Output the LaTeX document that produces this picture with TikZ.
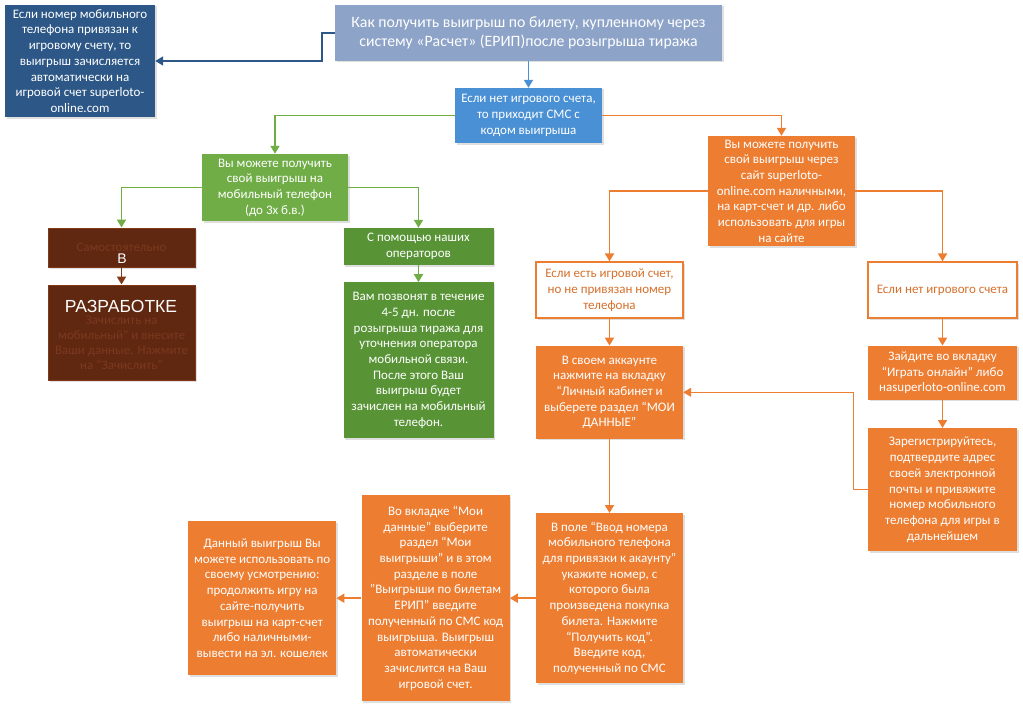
\documentclass[tikz,border=0pt]{standalone}
\usepackage{fontspec}
\setmainfont{Carlito}
\newfontfamily\stampfont{Liberation Sans}
\usetikzlibrary{positioning,arrows.meta,shadows}

\definecolor{navyBlue}{RGB}{44,87,134}
\definecolor{greyBlue}{RGB}{141,163,200}
\definecolor{skyBlue}{RGB}{74,144,212}
\definecolor{leafGreen}{RGB}{112,173,71}
\definecolor{darkGreen}{RGB}{88,148,54}
\definecolor{brandOrange}{RGB}{237,125,49}
\definecolor{darkBrown}{RGB}{96,40,16}
\definecolor{brownEdge}{RGB}{128,56,22}
\definecolor{brownText}{RGB}{124,56,32}

\tikzset{
    box/.style={rectangle, align=center, inner sep=2pt, text=white, minimum width=147pt,
        font=\fontsize{13}{15.7}\selectfont,
        drop shadow={opacity=0.25, shadow xshift=1.5pt, shadow yshift=-1.5pt}},
    navyBox/.style={box, fill=navyBlue, minimum width=150pt},
    titleBox/.style={box, fill=greyBlue, font=\fontsize{15.8}{18.5}\selectfont},
    blueBox/.style={box, fill=skyBlue},
    greenBox/.style={box, fill=leafGreen},
    darkGreenBox/.style={box, fill=darkGreen, minimum width=150pt},
    brownBox/.style={box, fill=darkBrown, draw=brownEdge, line width=1pt, text=brownText},
    orangeBox/.style={box, fill=brandOrange},
    paleBox/.style={box, fill=white, draw=brandOrange, line width=1.2pt, text=brandOrange!90!black},
    stamp/.style={text=white, inner sep=0pt},
    link/.style={line width=1.8pt, -{Triangle[width=9pt,length=8pt]}},
}

\begin{document}
\begin{tikzpicture}[x=1pt, y=-1pt]
    \useasboundingbox (0,0) rectangle (1023,709);
    % top row
    \node[navyBox, minimum height=112pt] (winAuto) at (80,61) {Если номер мобильного\\телефона привязан к\\игровому счету, то\\выигрыш зачисляется\\автоматически на\\игровой счет superloto-\\online.com};
    \node[titleBox, minimum width=387pt, minimum height=56pt] (howTo) at (528.5,33) {Как получить выигрыш по билету, купленному через\\систему «Расчет» (ЕРИП)после розыгрыша тиража};
    \node[blueBox, minimum height=55pt] (smsCode) at (528.5,115.5) {Если нет игрового счета,\\то приходит СМС с\\кодом выигрыша};
    % green branch
    \node[greenBox, minimum width=146pt, minimum height=67pt] (mobPhone) at (275,187.5) {Вы можете получить\\свой выигрыш на\\мобильный телефон\\(до 3х б.в.)};
    \node[brownBox, minimum height=39pt] (selfDo) at (121.5,247.5) {Самостоятельно};
    \node[brownBox, minimum height=95pt, below=17pt of selfDo] (selfData) {};
    \node[text=brownText, align=center, font=\fontsize{13}{15}\selectfont] at ([yshift=-10pt]selfData.center) {Зачислить на\\мобильный” и внесите\\Ваши данные. Нажмите\\на “Зачислить”};
    \node[darkGreenBox, minimum height=37pt] (viaOper) at (418.5,246.5) {С помощью наших\\операторов};
    \node[darkGreenBox, minimum height=156pt, below=17pt of viaOper] (operCall) {Вам позвонят в течение\\4-5 дн. после\\розыгрыша тиража для\\уточнения оператора\\мобильной связи.\\После этого Ваш\\выигрыш будет\\зачислен на мобильный\\телефон.};
    % orange branch
    \node[orangeBox, minimum height=110pt] (viaSite) at (781.5,191) {Вы можете получить\\свой выигрыш через\\сайт superloto-\\online.com наличными,\\на карт-счет и др. либо\\использовать для игры\\на сайте};
    \node[paleBox, minimum height=56pt] (hasAcc) at (609.5,290) {Если есть игровой счет,\\но не привязан номер\\телефона};
    \node[paleBox, minimum width=149pt, minimum height=56pt] (noAcc) at (942.5,290) {Если нет игрового счета};
    \node[orangeBox, minimum height=93pt, below=27pt of hasAcc] (myData) {В своем аккаунте\\нажмите на вкладку\\“Личный кабинет и\\выберете раздел “МОИ\\ДАННЫЕ”};
    \node[orangeBox, minimum width=149pt, minimum height=54pt, below=27pt of noAcc] (playOnline) {Зайдите во вкладку\\“Играть онлайн” либо\\наsuperloto-online.com};
    \node[orangeBox, minimum width=149pt, minimum height=123pt, below=28pt of playOnline] (register) {Зарегистрируйтесь,\\подтвердите адрес\\своей электронной\\почты и привяжите\\номер мобильного\\телефона для игры в\\дальнейшем};
    \node[orangeBox, minimum height=170pt, below=74pt of myData] (enterCode) {В поле “Ввод номера\\мобильного телефона\\для привязки к акаунту”\\укажите номер, с\\которого была\\произведена покупка\\билета. Нажмите\\“Получить код”.\\Введите код,\\полученный по СМС};
    \node[orangeBox, minimum width=148pt, minimum height=206pt, left=26pt of enterCode] (eripWin) {Во вкладке “Мои\\данные” выберите\\раздел “Мои\\выигрыши” и в этом\\разделе в поле\\"Выигрыши по билетам\\ЕРИП" введите\\полученный по СМС код\\выигрыша. Выигрыш\\автоматически\\зачислится на Ваш\\игровой счет.};
    \node[orangeBox, minimum width=148pt, minimum height=154pt, left=25pt of eripWin] (useWin) {Данный выигрыш Вы\\можете использовать по\\своему усмотрению:\\продолжить игру на\\сайте-получить\\выигрыш на карт-счет\\либо наличными-\\вывести на эл. кошелек};

    % connectors
    \draw[link, navyBlue] (howTo.west) -- ++(-13,0) |- (winAuto.east);
    \draw[link, skyBlue] (howTo.south) -- (smsCode.north);
    \draw[link, leafGreen] (smsCode.west) -| (mobPhone.north);
    \draw[link, leafGreen] (mobPhone.west) -| (selfDo.north);
    \draw[link, leafGreen] (mobPhone.east) -| (viaOper.north);
    \draw[link, brownEdge] (selfDo.south) -- (selfData.north);
    \draw[link, leafGreen] (viaOper.south) -- (operCall.north);
    \draw[link, brandOrange] (smsCode.east) -| (viaSite.north);
    \draw[link, brandOrange] (viaSite.west) -| (hasAcc.north);
    \draw[link, brandOrange] (viaSite.east) -| (noAcc.north);
    \draw[link, brandOrange] (hasAcc.south) -- (myData.north);
    \draw[link, brandOrange] (noAcc.south) -- (playOnline.north);
    \draw[link, brandOrange] (playOnline.south) -- (register.north);
    \draw[link, brandOrange, line width=1.2pt] (register.west) -- ++(-14,0) |- (myData.east);
    \draw[link, brandOrange] (myData.south) -- (enterCode.north);
    \draw[link, brandOrange] (enterCode.west) -- (eripWin.east);
    \draw[link, brandOrange] (eripWin.west) -- (useWin.east);

    % stamp over the brown boxes
    \node[stamp, font=\stampfont\fontsize{14}{14}\selectfont] (stampIn) at (122,259) {В};
    \node[stamp, font=\stampfont\fontsize{17.5}{17.5}\selectfont] (stampDev) at (121,306) {РАЗРАБОТКЕ};
\end{tikzpicture}
\end{document}
